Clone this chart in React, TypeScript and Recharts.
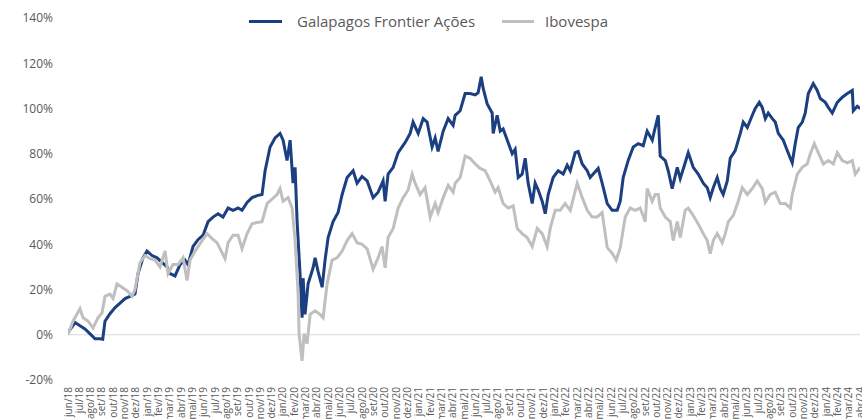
import React from "react";
import { LineChart, Line, XAxis, YAxis, ReferenceLine } from "recharts";

// Month tick labels (jun/18 .. abr/24)
const monthNames = ["jan", "fev", "mar", "abr", "mai", "jun", "jul", "ago", "set", "out", "nov", "dez"];
const monthLabels: string[] = [];
for (let i = 0; i <= 70; i++) {
  const m = (5 + i) % 12;
  const y = 18 + Math.floor((5 + i) / 12);
  monthLabels.push(`${monthNames[m]}/${y}`);
}
const xTicks = monthLabels.map((_, i) => i);
const yTicks = [-20, 0, 20, 40, 60, 80, 100, 120, 140];

// Galapagos Frontier Ações: time (months since jun/18) and cumulative return (%)
const galT = [0.0, 0.62, 1.06, 1.5, 1.95, 2.39, 2.83, 3.07, 3.27, 3.71, 4.16, 4.6, 5.04, 5.48, 5.92, 6.19, 6.63, 6.98, 7.43, 7.87, 8.31, 8.75, 9.02, 9.46, 9.9, 10.34, 10.61, 11.05, 11.49, 11.94, 12.38, 12.82, 13.26, 13.7, 14.15, 14.59, 15.03, 15.38, 15.83, 16.27, 16.71, 17.15, 17.42, 17.86, 18.3, 18.74, 19.01, 19.36, 19.63, 19.89, 20.07, 20.25, 20.51, 20.69, 20.78, 20.95, 21.22, 21.66, 21.84, 22.1, 22.46, 22.72, 22.99, 23.43, 23.87, 24.23, 24.67, 25.2, 25.55, 25.99, 26.44, 26.97, 27.41, 27.85, 28.03, 28.29, 28.74, 29.18, 29.8, 30.24, 30.5, 30.95, 31.39, 31.74, 32.18, 32.45, 32.71, 33.16, 33.6, 34.04, 34.22, 34.66, 35.1, 35.54, 35.99, 36.25, 36.52, 36.69, 37.05, 37.49, 37.58, 37.93, 38.2, 38.46, 38.9, 39.26, 39.52, 39.79, 40.14, 40.41, 40.67, 41.03, 41.29, 41.56, 41.91, 42.18, 42.44, 42.88, 43.32, 43.77, 44.12, 44.39, 44.83, 45.09, 45.45, 45.89, 46.15, 46.42, 46.86, 47.21, 47.66, 48.1, 48.54, 48.81, 49.07, 49.51, 49.96, 50.4, 50.84, 51.19, 51.64, 51.9, 52.17, 52.34, 52.79, 53.05, 53.4, 53.85, 54.11, 54.55, 54.82, 55.26, 55.7, 56.15, 56.5, 56.76, 57.03, 57.38, 57.65, 57.91, 58.27, 58.53, 58.97, 59.42, 59.68, 60.04, 60.48, 60.74, 61.1, 61.36, 61.63, 61.89, 62.25, 62.51, 62.78, 63.22, 63.57, 63.84, 64.01, 64.28, 64.54, 64.9, 65.16, 65.43, 65.87, 66.22, 66.49, 66.93, 67.2, 67.55, 67.99, 68.44, 68.88, 69.32, 69.41, 69.76, 70.03];
const galV = [1, 5.4, 4, 2.6, 0.4, -1.8, -1.8, -2, 6, 9.3, 12, 14, 16, 17, 18, 27, 34, 37, 35, 34, 32, 30, 27, 26, 31, 33, 31, 39, 42, 44, 50, 52, 53.5, 52, 56, 55, 56, 55, 58.5, 60.6, 61.5, 62, 72.5, 83, 87, 89, 86, 77, 86, 67, 74, 50, 27, 7.5, 25, 9, 22.5, 29.6, 34, 28, 21, 33, 43, 50, 54, 62, 69.5, 72.5, 67, 70, 68, 60.6, 63, 68, 59, 71, 74, 80.5, 85, 89, 94, 89, 95.5, 94, 83, 87, 81, 90, 95.5, 92.5, 97, 99, 106.6, 106.6, 106, 107, 114, 109, 102, 98, 89, 97, 90, 91, 85, 80, 82, 69.5, 71, 78, 67, 58, 67, 64, 59, 53.5, 62, 69.5, 72.5, 71, 75, 72.5, 80.5, 81, 75.5, 72.5, 69.5, 71, 73.5, 67, 58, 55, 55, 59, 69.5, 77, 83, 84.5, 83.6, 90, 86, 91.6, 97, 79, 77, 72.5, 64.6, 74, 69, 76, 80.5, 74, 71, 67, 65, 60.6, 65, 69.5, 64.6, 62, 68, 78, 81.4, 89, 94, 91.6, 97, 100, 102.7, 100.5, 95.5, 98, 95.5, 94, 89, 86, 81.4, 78, 76, 84.5, 91.6, 94, 98, 106.6, 111, 108, 104.4, 102.7, 100.5, 98, 102.7, 105, 106.6, 108, 99, 101, 100];

// Ibovespa: time (months since jun/18) and cumulative return (%)
const iboT = [0.0, 0.44, 1.06, 1.33, 1.77, 2.21, 2.65, 3.01, 3.27, 3.71, 3.98, 4.33, 4.77, 5.22, 5.66, 5.92, 6.37, 6.81, 7.25, 7.69, 8.13, 8.58, 8.84, 9.28, 9.73, 10.17, 10.52, 10.79, 11.23, 11.85, 12.29, 12.73, 13.17, 13.44, 13.88, 14.15, 14.59, 15.03, 15.38, 15.83, 16.27, 16.71, 17.15, 17.6, 18.04, 18.48, 18.74, 19.01, 19.45, 19.81, 20.07, 20.34, 20.42, 20.69, 20.87, 21.13, 21.4, 21.84, 22.28, 22.55, 22.9, 23.34, 23.78, 24.23, 24.67, 25.11, 25.55, 25.99, 26.44, 26.97, 27.41, 27.76, 28.03, 28.29, 28.74, 29.18, 29.62, 30.06, 30.42, 30.68, 31.12, 31.56, 32.01, 32.45, 32.71, 33.16, 33.6, 34.04, 34.22, 34.66, 35.1, 35.54, 35.99, 36.43, 36.87, 37.31, 37.75, 38.02, 38.46, 38.9, 39.35, 39.7, 40.14, 40.58, 41.03, 41.47, 41.91, 42.35, 42.62, 43.06, 43.5, 43.94, 44.39, 45.01, 45.45, 45.89, 46.33, 46.77, 47.21, 47.66, 48.1, 48.45, 48.81, 49.25, 49.69, 50.13, 50.57, 51.02, 51.19, 51.64, 51.9, 52.17, 52.34, 52.79, 53.23, 53.49, 53.85, 54.11, 54.55, 54.82, 55.26, 55.7, 56.15, 56.5, 56.76, 57.03, 57.38, 57.82, 58.09, 58.36, 58.8, 59.24, 59.59, 60.04, 60.48, 60.92, 61.36, 61.63, 62.07, 62.51, 62.95, 63.4, 63.84, 64.01, 64.46, 64.9, 65.34, 65.61, 65.96, 66.31, 66.76, 67.2, 67.64, 67.99, 68.44, 68.88, 69.32, 69.58, 70.03];
const iboV = [0, 6, 11.5, 7.5, 6, 3, 7.5, 9.7, 17, 18, 16, 22.5, 21, 19.5, 17, 20, 32, 35, 33.6, 33, 30, 37, 27, 31, 31, 34, 24, 33, 37, 41.6, 44.7, 42.5, 40.7, 38, 33.6, 40.7, 44, 44, 38, 44.7, 49, 49.6, 50, 58, 60, 62, 64.6, 59, 60.6, 56, 41.6, 18, 0.4, -11.5, 0.5, -4, 9, 10.6, 9, 7.5, 22.5, 33, 34, 37, 41.6, 44.7, 40.7, 40, 38, 29, 34, 39, 29.6, 43, 47, 56, 60.6, 64, 71, 67, 62, 65, 52, 58, 54, 60.6, 66, 63, 67, 69.5, 79, 78, 75.5, 73.5, 72.5, 68, 63, 65, 58, 56, 57, 47, 44.7, 43, 39, 47, 44.7, 39, 47, 55, 55, 58, 55, 67, 60.6, 55, 52, 52, 54, 38.5, 36, 33, 38.5, 52, 56, 55, 56, 50, 64.6, 59, 62, 62, 56, 52, 50, 41.6, 50, 43, 55, 56, 52.7, 49, 44.7, 41.6, 35.8, 41.6, 44.7, 40.7, 44.7, 50, 52.7, 59, 65, 62, 64.6, 68, 64.6, 58.5, 62, 63, 58, 58, 56, 62, 71, 74, 75.5, 80, 84.5, 80.5, 75.5, 77, 75.5, 80.5, 77, 76, 77, 71, 74];

const galData = galT.map((t, i) => ({ t, v: galV[i] }));
const iboData = iboT.map((t, i) => ({ t, v: iboV[i] }));

const BLUE = "#1B3F80";
const GRAY = "#BFBFBF";
const TEXT = "#595959";

const XTick = (props: any) => {
  const { x, y, payload } = props;
  return (
    <g transform={`translate(${x},${y})`}>
      <text
        transform="rotate(-90)"
        textAnchor="end"
        dy="0.35em"
        fill={TEXT}
        fontSize={10}
        fontFamily="'Open Sans', sans-serif"
      >
        {monthLabels[payload.value]}
      </text>
    </g>
  );
};

export default function App() {
  return (
    <div style={{ position: "absolute", left: 0, top: 0, width: 862, height: 419 }}>
      <LineChart width={862} height={419} margin={{ top: 18, right: 2, bottom: 0, left: 0 }}>
        <XAxis
          type="number"
          dataKey="t"
          domain={[0, 70]}
          ticks={xTicks}
          interval={0}
          axisLine={false}
          tickLine={false}
          tickSize={0}
          tickMargin={7}
          height={39}
          tick={<XTick />}
          allowDataOverflow
        />
        <YAxis
          type="number"
          domain={[-20, 140]}
          ticks={yTicks}
          interval={0}
          axisLine={false}
          tickLine={false}
          tickSize={0}
          tickMargin={15}
          width={68}
          tickFormatter={(v: number) => `${v}%`}
          tick={{ fill: TEXT, fontSize: 12, fontFamily: "'Open Sans', sans-serif" }}
        />
        <ReferenceLine y={0} stroke="#D9D9D9" strokeWidth={1} />
        <Line
          data={galData}
          dataKey="v"
          type="linear"
          stroke={BLUE}
          strokeWidth={3}
          dot={false}
          activeDot={false}
          isAnimationActive={false}
          name="Galapagos Frontier Ações"
        />
        <Line
          data={iboData}
          dataKey="v"
          type="linear"
          stroke={GRAY}
          strokeWidth={3}
          dot={false}
          activeDot={false}
          isAnimationActive={false}
          name="Ibovespa"
        />
      </LineChart>
      <div
        style={{
          position: "absolute",
          left: 0,
          top: 0,
          width: 862,
          height: 44,
          fontFamily: "'Open Sans', sans-serif",
          fontSize: 15,
          color: TEXT,
          pointerEvents: "none",
        }}
      >
        <div style={{ position: "absolute", left: 249, top: 20, width: 33, height: 3, background: BLUE }} />
        <div style={{ position: "absolute", left: 297, top: 11, lineHeight: "20px", whiteSpace: "nowrap" }}>
          Galapagos Frontier Ações
        </div>
        <div style={{ position: "absolute", left: 502, top: 20, width: 32, height: 3, background: GRAY }} />
        <div style={{ position: "absolute", left: 545, top: 11, lineHeight: "20px", whiteSpace: "nowrap" }}>
          Ibovespa
        </div>
      </div>
    </div>
  );
}
